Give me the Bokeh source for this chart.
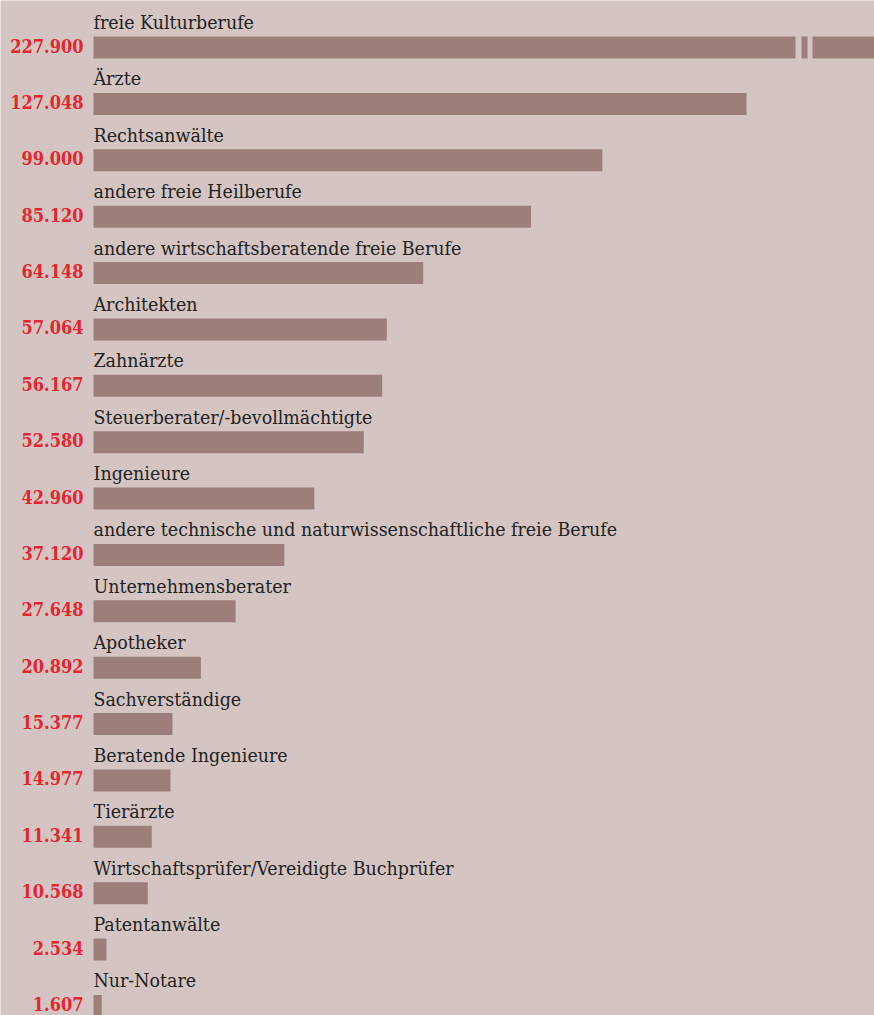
from bokeh.plotting import figure
from bokeh.models import Range1d, ColumnDataSource
from bokeh.core.properties import value
from bokeh.embed import file_html
from bokeh.resources import INLINE

categories = ["freie Kulturberufe", "Ärzte", "Rechtsanwälte", "andere freie Heilberufe",
              "andere wirtschaftsberatende freie Berufe", "Architekten", "Zahnärzte",
              "Steuerberater/-bevollmächtigte", "Ingenieure",
              "andere technische und naturwissenschaftliche freie Berufe",
              "Unternehmensberater", "Apotheker", "Sachverständige", "Beratende Ingenieure",
              "Tierärzte", "Wirtschaftsprüfer/Vereidigte Buchprüfer", "Patentanwälte", "Nur-Notare"]
values = [227900, 127048, 99000, 85120, 64148, 57064, 56167, 52580, 42960, 37120,
          27648, 20892, 15377, 14977, 11341, 10568, 2534, 1607]
labels = ["227.900", "127.048", "99.000", "85.120", "64.148", "57.064", "56.167", "52.580",
          "42.960", "37.120", "27.648", "20.892", "15.377", "14.977", "11.341", "10.568",
          "2.534", "1.607"]

W, H = 874, 1015
BG = "#d4c5c3"
BAR = "#9c7f7b"
RED = "#e52631"

x0_px = 93.0
px_per_unit = 5.14 / 1000.0
x_start = -x0_px / px_per_unit
x_end = (W - x0_px) / px_per_unit

pitch = 56.375
c0 = 47.0
y_top = -c0 / pitch
y_bot = (H - c0) / pitch

ys = list(range(len(categories)))
x_max = x_end * 1.2
bar_right = [min(v, x_max) for v in values]

src = ColumnDataSource(dict(y=ys, right=bar_right, cat=categories, lab=labels,
                            zero=[0] * len(ys)))

p = figure(width=W, height=H, output_backend="svg", toolbar_location=None,
           x_range=Range1d(x_start, x_end), y_range=Range1d(y_bot, y_top),
           min_border=0, min_border_left=0, min_border_right=0,
           min_border_top=0, min_border_bottom=0)
p.background_fill_color = BG
p.border_fill_color = BG
p.outline_line_color = None
p.axis.visible = False
p.grid.visible = False

bar_h = 22.0 / pitch
p.hbar(y="y", left="zero", right="right", height=bar_h, source=src,
       fill_color=BAR, line_color=None)

# axis break on the truncated first bar
gap1 = ((795 - x0_px) / px_per_unit, (801 - x0_px) / px_per_unit)
gap2 = ((807 - x0_px) / px_per_unit, (812 - x0_px) / px_per_unit)
p.hbar(y=[0, 0], left=[gap1[0], gap2[0]], right=[gap1[1], gap2[1]], height=bar_h * 1.2,
       fill_color=BG, line_color=None)

p.text(x="zero", y="y", text="lab", source=src, x_offset=-10, y_offset=-2,
       text_align="right", text_baseline="middle", text_color=RED,
       text_font=value("DejaVu Serif Condensed"), text_font_style="bold",
       text_font_size="18px")
p.text(x="zero", y="y", text="cat", source=src, y_offset=-25,
       text_align="left", text_baseline="alphabetic", text_color="#222222",
       text_font=value("DejaVu Serif Condensed"), text_font_size="19.4px")

open("out.html", "w").write(file_html(p, INLINE))
